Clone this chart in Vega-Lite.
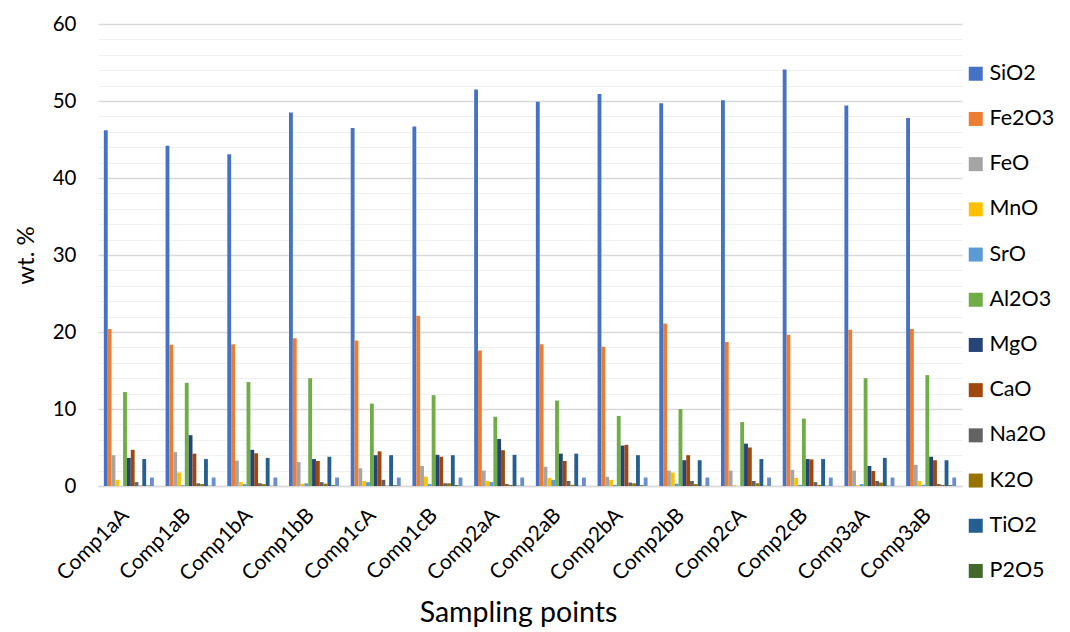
{
  "$schema": "https://vega.github.io/schema/vega-lite/v6.json",
  "autosize": {"type": "none"},
  "padding": {"left": 98, "top": 24, "right": 108, "bottom": 146},
  "width": 864,
  "height": 462,
  "background": "white",
  "config": {
    "font": "Lato",
    "view": {"stroke": null},
    "legend": {"padding": 0}
  },
  "datasets": {
    "rows": [
      {"sample":"Comp1aA","oxide":"SiO2","value":46.2},{"sample":"Comp1aA","oxide":"Fe2O3","value":20.4},{"sample":"Comp1aA","oxide":"FeO","value":4.0},{"sample":"Comp1aA","oxide":"MnO","value":0.8},{"sample":"Comp1aA","oxide":"SrO","value":0.0},{"sample":"Comp1aA","oxide":"Al2O3","value":12.2},{"sample":"Comp1aA","oxide":"MgO","value":3.65},{"sample":"Comp1aA","oxide":"CaO","value":4.7},{"sample":"Comp1aA","oxide":"Na2O","value":0.5},{"sample":"Comp1aA","oxide":"K2O","value":0.05},{"sample":"Comp1aA","oxide":"TiO2","value":3.5},{"sample":"Comp1aA","oxide":"P2O5","value":0.05},{"sample":"Comp1aA","oxide":"LOI","value":1.1},
      {"sample":"Comp1aB","oxide":"SiO2","value":44.2},{"sample":"Comp1aB","oxide":"Fe2O3","value":18.35},{"sample":"Comp1aB","oxide":"FeO","value":4.4},{"sample":"Comp1aB","oxide":"MnO","value":1.75},{"sample":"Comp1aB","oxide":"SrO","value":0.1},{"sample":"Comp1aB","oxide":"Al2O3","value":13.4},{"sample":"Comp1aB","oxide":"MgO","value":6.6},{"sample":"Comp1aB","oxide":"CaO","value":4.2},{"sample":"Comp1aB","oxide":"Na2O","value":0.35},{"sample":"Comp1aB","oxide":"K2O","value":0.25},{"sample":"Comp1aB","oxide":"TiO2","value":3.5},{"sample":"Comp1aB","oxide":"P2O5","value":0.03},{"sample":"Comp1aB","oxide":"LOI","value":1.1},
      {"sample":"Comp1bA","oxide":"SiO2","value":43.1},{"sample":"Comp1bA","oxide":"Fe2O3","value":18.4},{"sample":"Comp1bA","oxide":"FeO","value":3.3},{"sample":"Comp1bA","oxide":"MnO","value":0.5},{"sample":"Comp1bA","oxide":"SrO","value":0.25},{"sample":"Comp1bA","oxide":"Al2O3","value":13.5},{"sample":"Comp1bA","oxide":"MgO","value":4.7},{"sample":"Comp1bA","oxide":"CaO","value":4.25},{"sample":"Comp1bA","oxide":"Na2O","value":0.35},{"sample":"Comp1bA","oxide":"K2O","value":0.25},{"sample":"Comp1bA","oxide":"TiO2","value":3.65},{"sample":"Comp1bA","oxide":"P2O5","value":0.03},{"sample":"Comp1bA","oxide":"LOI","value":1.1},
      {"sample":"Comp1bB","oxide":"SiO2","value":48.5},{"sample":"Comp1bB","oxide":"Fe2O3","value":19.2},{"sample":"Comp1bB","oxide":"FeO","value":3.1},{"sample":"Comp1bB","oxide":"MnO","value":0.3},{"sample":"Comp1bB","oxide":"SrO","value":0.35},{"sample":"Comp1bB","oxide":"Al2O3","value":14.0},{"sample":"Comp1bB","oxide":"MgO","value":3.5},{"sample":"Comp1bB","oxide":"CaO","value":3.25},{"sample":"Comp1bB","oxide":"Na2O","value":0.5},{"sample":"Comp1bB","oxide":"K2O","value":0.3},{"sample":"Comp1bB","oxide":"TiO2","value":3.8},{"sample":"Comp1bB","oxide":"P2O5","value":0.1},{"sample":"Comp1bB","oxide":"LOI","value":1.1},
      {"sample":"Comp1cA","oxide":"SiO2","value":46.5},{"sample":"Comp1cA","oxide":"Fe2O3","value":18.9},{"sample":"Comp1cA","oxide":"FeO","value":2.3},{"sample":"Comp1cA","oxide":"MnO","value":0.65},{"sample":"Comp1cA","oxide":"SrO","value":0.5},{"sample":"Comp1cA","oxide":"Al2O3","value":10.7},{"sample":"Comp1cA","oxide":"MgO","value":4.0},{"sample":"Comp1cA","oxide":"CaO","value":4.5},{"sample":"Comp1cA","oxide":"Na2O","value":0.8},{"sample":"Comp1cA","oxide":"K2O","value":0.05},{"sample":"Comp1cA","oxide":"TiO2","value":4.0},{"sample":"Comp1cA","oxide":"P2O5","value":0.1},{"sample":"Comp1cA","oxide":"LOI","value":1.1},
      {"sample":"Comp1cB","oxide":"SiO2","value":46.7},{"sample":"Comp1cB","oxide":"Fe2O3","value":22.1},{"sample":"Comp1cB","oxide":"FeO","value":2.6},{"sample":"Comp1cB","oxide":"MnO","value":1.2},{"sample":"Comp1cB","oxide":"SrO","value":0.25},{"sample":"Comp1cB","oxide":"Al2O3","value":11.8},{"sample":"Comp1cB","oxide":"MgO","value":4.05},{"sample":"Comp1cB","oxide":"CaO","value":3.8},{"sample":"Comp1cB","oxide":"Na2O","value":0.35},{"sample":"Comp1cB","oxide":"K2O","value":0.35},{"sample":"Comp1cB","oxide":"TiO2","value":4.0},{"sample":"Comp1cB","oxide":"P2O5","value":0.12},{"sample":"Comp1cB","oxide":"LOI","value":1.1},
      {"sample":"Comp2aA","oxide":"SiO2","value":51.5},{"sample":"Comp2aA","oxide":"Fe2O3","value":17.6},{"sample":"Comp2aA","oxide":"FeO","value":2.0},{"sample":"Comp2aA","oxide":"MnO","value":0.65},{"sample":"Comp2aA","oxide":"SrO","value":0.5},{"sample":"Comp2aA","oxide":"Al2O3","value":9.0},{"sample":"Comp2aA","oxide":"MgO","value":6.1},{"sample":"Comp2aA","oxide":"CaO","value":4.65},{"sample":"Comp2aA","oxide":"Na2O","value":0.25},{"sample":"Comp2aA","oxide":"K2O","value":0.15},{"sample":"Comp2aA","oxide":"TiO2","value":4.05},{"sample":"Comp2aA","oxide":"P2O5","value":0.05},{"sample":"Comp2aA","oxide":"LOI","value":1.1},
      {"sample":"Comp2aB","oxide":"SiO2","value":49.9},{"sample":"Comp2aB","oxide":"Fe2O3","value":18.4},{"sample":"Comp2aB","oxide":"FeO","value":2.5},{"sample":"Comp2aB","oxide":"MnO","value":1.05},{"sample":"Comp2aB","oxide":"SrO","value":0.8},{"sample":"Comp2aB","oxide":"Al2O3","value":11.1},{"sample":"Comp2aB","oxide":"MgO","value":4.2},{"sample":"Comp2aB","oxide":"CaO","value":3.25},{"sample":"Comp2aB","oxide":"Na2O","value":0.65},{"sample":"Comp2aB","oxide":"K2O","value":0.15},{"sample":"Comp2aB","oxide":"TiO2","value":4.2},{"sample":"Comp2aB","oxide":"P2O5","value":0.03},{"sample":"Comp2aB","oxide":"LOI","value":1.1},
      {"sample":"Comp2bA","oxide":"SiO2","value":50.9},{"sample":"Comp2bA","oxide":"Fe2O3","value":18.1},{"sample":"Comp2bA","oxide":"FeO","value":1.2},{"sample":"Comp2bA","oxide":"MnO","value":0.8},{"sample":"Comp2bA","oxide":"SrO","value":0.15},{"sample":"Comp2bA","oxide":"Al2O3","value":9.1},{"sample":"Comp2bA","oxide":"MgO","value":5.25},{"sample":"Comp2bA","oxide":"CaO","value":5.35},{"sample":"Comp2bA","oxide":"Na2O","value":0.45},{"sample":"Comp2bA","oxide":"K2O","value":0.35},{"sample":"Comp2bA","oxide":"TiO2","value":4.0},{"sample":"Comp2bA","oxide":"P2O5","value":0.1},{"sample":"Comp2bA","oxide":"LOI","value":1.1},
      {"sample":"Comp2bB","oxide":"SiO2","value":49.7},{"sample":"Comp2bB","oxide":"Fe2O3","value":21.1},{"sample":"Comp2bB","oxide":"FeO","value":2.0},{"sample":"Comp2bB","oxide":"MnO","value":1.75},{"sample":"Comp2bB","oxide":"SrO","value":0.3},{"sample":"Comp2bB","oxide":"Al2O3","value":10.0},{"sample":"Comp2bB","oxide":"MgO","value":3.35},{"sample":"Comp2bB","oxide":"CaO","value":4.0},{"sample":"Comp2bB","oxide":"Na2O","value":0.65},{"sample":"Comp2bB","oxide":"K2O","value":0.25},{"sample":"Comp2bB","oxide":"TiO2","value":3.35},{"sample":"Comp2bB","oxide":"P2O5","value":0.03},{"sample":"Comp2bB","oxide":"LOI","value":1.1},
      {"sample":"Comp2cA","oxide":"SiO2","value":50.1},{"sample":"Comp2cA","oxide":"Fe2O3","value":18.7},{"sample":"Comp2cA","oxide":"FeO","value":2.0},{"sample":"Comp2cA","oxide":"MnO","value":0.1},{"sample":"Comp2cA","oxide":"SrO","value":0.0},{"sample":"Comp2cA","oxide":"Al2O3","value":8.3},{"sample":"Comp2cA","oxide":"MgO","value":5.5},{"sample":"Comp2cA","oxide":"CaO","value":5.0},{"sample":"Comp2cA","oxide":"Na2O","value":0.65},{"sample":"Comp2cA","oxide":"K2O","value":0.35},{"sample":"Comp2cA","oxide":"TiO2","value":3.5},{"sample":"Comp2cA","oxide":"P2O5","value":0.03},{"sample":"Comp2cA","oxide":"LOI","value":1.1},
      {"sample":"Comp2cB","oxide":"SiO2","value":54.1},{"sample":"Comp2cB","oxide":"Fe2O3","value":19.65},{"sample":"Comp2cB","oxide":"FeO","value":2.1},{"sample":"Comp2cB","oxide":"MnO","value":1.05},{"sample":"Comp2cB","oxide":"SrO","value":0.15},{"sample":"Comp2cB","oxide":"Al2O3","value":8.75},{"sample":"Comp2cB","oxide":"MgO","value":3.5},{"sample":"Comp2cB","oxide":"CaO","value":3.45},{"sample":"Comp2cB","oxide":"Na2O","value":0.5},{"sample":"Comp2cB","oxide":"K2O","value":0.15},{"sample":"Comp2cB","oxide":"TiO2","value":3.5},{"sample":"Comp2cB","oxide":"P2O5","value":0.03},{"sample":"Comp2cB","oxide":"LOI","value":1.1},
      {"sample":"Comp3aA","oxide":"SiO2","value":49.4},{"sample":"Comp3aA","oxide":"Fe2O3","value":20.3},{"sample":"Comp3aA","oxide":"FeO","value":2.0},{"sample":"Comp3aA","oxide":"MnO","value":0.1},{"sample":"Comp3aA","oxide":"SrO","value":0.25},{"sample":"Comp3aA","oxide":"Al2O3","value":14.0},{"sample":"Comp3aA","oxide":"MgO","value":2.6},{"sample":"Comp3aA","oxide":"CaO","value":1.95},{"sample":"Comp3aA","oxide":"Na2O","value":0.65},{"sample":"Comp3aA","oxide":"K2O","value":0.45},{"sample":"Comp3aA","oxide":"TiO2","value":3.65},{"sample":"Comp3aA","oxide":"P2O5","value":0.03},{"sample":"Comp3aA","oxide":"LOI","value":1.1},
      {"sample":"Comp3aB","oxide":"SiO2","value":47.8},{"sample":"Comp3aB","oxide":"Fe2O3","value":20.4},{"sample":"Comp3aB","oxide":"FeO","value":2.75},{"sample":"Comp3aB","oxide":"MnO","value":0.65},{"sample":"Comp3aB","oxide":"SrO","value":0.15},{"sample":"Comp3aB","oxide":"Al2O3","value":14.4},{"sample":"Comp3aB","oxide":"MgO","value":3.8},{"sample":"Comp3aB","oxide":"CaO","value":3.35},{"sample":"Comp3aB","oxide":"Na2O","value":0.25},{"sample":"Comp3aB","oxide":"K2O","value":0.15},{"sample":"Comp3aB","oxide":"TiO2","value":3.35},{"sample":"Comp3aB","oxide":"P2O5","value":0.1},{"sample":"Comp3aB","oxide":"LOI","value":1.1}
    ]
  },
  "data": {"name": "rows"},
  "mark": {"type": "bar"},
  "encoding": {
    "x": {
      "field": "sample",
      "type": "nominal",
      "sort": null,
      "scale": {"paddingInner": 0.19, "paddingOuter": 0.095},
      "axis": {
        "title": "Sampling points",
        "titleFont": "Lato",
        "titleFontSize": 28.5,
        "titleFontWeight": "normal",
        "titleColor": "#000000",
        "titleAnchor": "middle",
        "titleAlign": "center",
        "titleBaseline": "middle",
        "titleX": 420,
        "titleY": 126,
        "labelAngle": -45,
        "labelFontSize": 21,
        "labelColor": "#000000",
        "labelBaseline": "middle",
        "labelAlign": "right",
        "labelPadding": 26,
        "labelOffset": -3,
        "ticks": false,
        "domainColor": "#d9d9d9",
        "domainWidth": 1.5,
        "grid": false
      }
    },
    "xOffset": {
      "field": "oxide",
      "type": "nominal",
      "sort": ["SiO2","Fe2O3","FeO","MnO","SrO","Al2O3","MgO","CaO","Na2O","K2O","TiO2","P2O5","LOI"],
      "scale": {"paddingInner": 0, "paddingOuter": 0}
    },
    "y": {
      "field": "value",
      "type": "quantitative",
      "scale": {"domain": [0, 60], "nice": false},
      "axis": {
        "title": "wt. %",
        "titleFontSize": 24,
        "titleFontWeight": "normal",
        "titleColor": "#000000",
        "titlePadding": 14,
        "values": [0,2,4,6,8,10,12,14,16,18,20,22,24,26,28,30,32,34,36,38,40,42,44,46,48,50,52,54,56,58,60],
        "labelExpr": "datum.value % 10 === 0 ? datum.label : ''",
        "labelFontSize": 20.5,
        "labelColor": "#000000",
        "labelPadding": 22,
        "ticks": false,
        "domain": false,
        "grid": true,
        "gridColor": {"condition": {"test": "datum.value % 10 === 0", "value": "#d9d9d9"}, "value": "#f0f0f0"},
        "gridWidth": {"condition": {"test": "datum.value % 10 === 0", "value": 1.5}, "value": 1.2}
      }
    },
    "color": {
      "field": "oxide",
      "type": "nominal",
      "scale": {
        "domain": ["SiO2","Fe2O3","FeO","MnO","SrO","Al2O3","MgO","CaO","Na2O","K2O","TiO2","P2O5","LOI"],
        "range": ["#4472C4","#ED7D31","#A5A5A5","#FFC000","#5B9BD5","#70AD47","#264478","#9E480E","#636363","#997300","#255E91","#43682B","#698ED0"]
      },
      "legend": {
        "title": null,
        "orient": "none",
        "legendX": 867,
        "legendY": 39,
        "values": ["SiO2","Fe2O3","FeO","MnO","SrO","Al2O3","MgO","CaO","Na2O","K2O","TiO2","P2O5"],
        "symbolType": "square",
        "symbolSize": 196,
        "symbolStrokeWidth": 0,
        "labelFontSize": 21.5,
        "labelColor": "#000000",
        "labelOffset": 3,
        "rowPadding": 22.2
      }
    }
  }
}
